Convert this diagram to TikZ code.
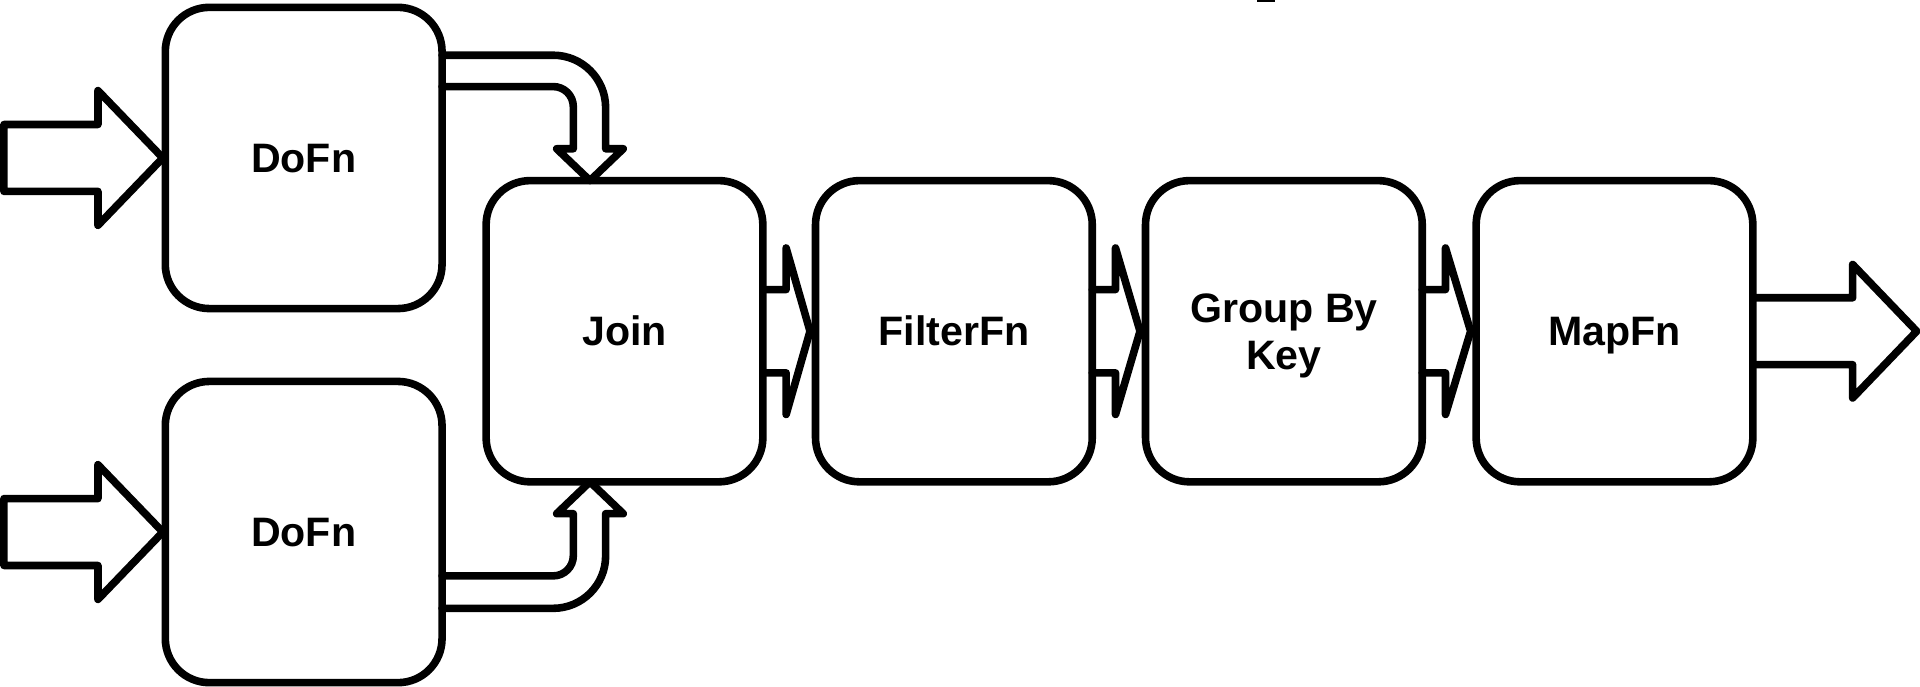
\documentclass[tikz,border=0pt]{standalone}
\usepackage{fontspec}
\setmainfont{Liberation Sans}
\usetikzlibrary{calc}
\tikzset{
  stage/.style={draw, line width=6.2pt, rounded corners=36pt,
    minimum width=226pt, minimum height=246pt, inner sep=0pt, outer sep=0pt,
    text height=24pt, text depth=0pt,
    font=\bfseries\fontsize{33.6}{38}\selectfont},
  flow/.style={draw, line width=6.2pt, line join=round, line cap=round},
}
% block arrow between two neighbouring stages
\newcommand\pipearrow[2]{%
  \draw[flow] ($(#1.east)+(0,34)$) -- ($(#1.east)+(19,34)$)
    -- ($(#1.east)+(19,68)$) -- ($(#2.west)+(-4.5,0)$)
    -- ($(#1.east)+(19,-68)$) -- ($(#1.east)+(19,-34)$)
    -- ($(#1.east)+(0,-34)$);}
\begin{document}
\begin{tikzpicture}[x=1pt,y=1pt]
\useasboundingbox (0,0) rectangle (1568,-561);

% stages
\node[stage] (dofnA) at (248,-129) {DoFn};
\node[stage] (dofnB) at (248,-434.5) {DoFn};
\node[stage] (join) at (510,-270.5) {Join};
\node[stage] (filter) at (779,-270.5) {FilterFn};
\node[stage, text height=62pt] (group) at (1048.5,-270.5)
  {\begin{tabular}[b]{@{}c@{}}Group By\\Key\end{tabular}};
\node[stage] (map) at (1318.5,-270.5) {MapFn};

% inputs
\coordinate (srcA) at (3.2,-129);
\coordinate (srcB) at (3.2,-434.5);
\draw[flow] ($(srcA)+(0,27.3)$) -- ($(dofnA.west)+(-55,27.3)$)
  -- ($(dofnA.west)+(-55,55)$) -- ($(dofnA.west)+(-2,0)$)
  -- ($(dofnA.west)+(-55,-55)$) -- ($(dofnA.west)+(-55,-27.3)$)
  -- ($(srcA)+(0,-27.3)$) -- cycle;
\draw[flow] ($(srcB)+(0,27.3)$) -- ($(dofnB.west)+(-55,27.3)$)
  -- ($(dofnB.west)+(-55,55)$) -- ($(dofnB.west)+(-2,0)$)
  -- ($(dofnB.west)+(-55,-55)$) -- ($(dofnB.west)+(-55,-27.3)$)
  -- ($(srcB)+(0,-27.3)$) -- cycle;

% bent arrows into the join
\coordinate (tipT) at ($(join.north)+(-28.2,0)$);
\coordinate (bendT) at ($(tipT)+(-30,102.4)$);
\draw[flow] (bendT -| dofnA.east) -- (bendT)
  arc[start angle=90, end angle=0, radius=42.8]
  -- ($(tipT)+(12.8,26)$) -- ($(tipT)+(27.2,26)$) -- (tipT)
  -- ($(tipT)+(-27.2,26)$) -- ($(tipT)+(-13.6,26)$) -- ++(0,34.4)
  arc[start angle=0, end angle=90, radius=16.4] coordinate (innerT)
  -- (innerT -| dofnA.east);

\coordinate (tipB) at ($(join.south)+(-28.2,0)$);
\coordinate (bendB) at ($(tipB)+(-30,-103.3)$);
\draw[flow] (bendB -| dofnB.east) -- (bendB)
  arc[start angle=-90, end angle=0, radius=42.8]
  -- ($(tipB)+(12.8,-26)$) -- ($(tipB)+(27.2,-26)$) -- (tipB)
  -- ($(tipB)+(-27.2,-26)$) -- ($(tipB)+(-13.6,-26)$) -- ++(0,-34.4)
  arc[start angle=0, end angle=-90, radius=16.4] coordinate (innerB)
  -- (innerB -| dofnB.east);

% pipeline arrows
\pipearrow{join}{filter}
\pipearrow{filter}{group}
\pipearrow{group}{map}

% output
\coordinate (sink) at (1565.3,-270.5);
\draw[flow] ($(map.east)+(0,27.3)$) -- ($(map.east)+(81.5,27.3)$)
  -- ($(map.east)+(81.5,54.5)$) -- (sink)
  -- ($(map.east)+(81.5,-54.5)$) -- ($(map.east)+(81.5,-27.3)$)
  -- ($(map.east)+(0,-27.3)$);

% small mark on the top edge
\fill (1026.5,0) rectangle (1041,-1.8);
\end{tikzpicture}
\end{document}
